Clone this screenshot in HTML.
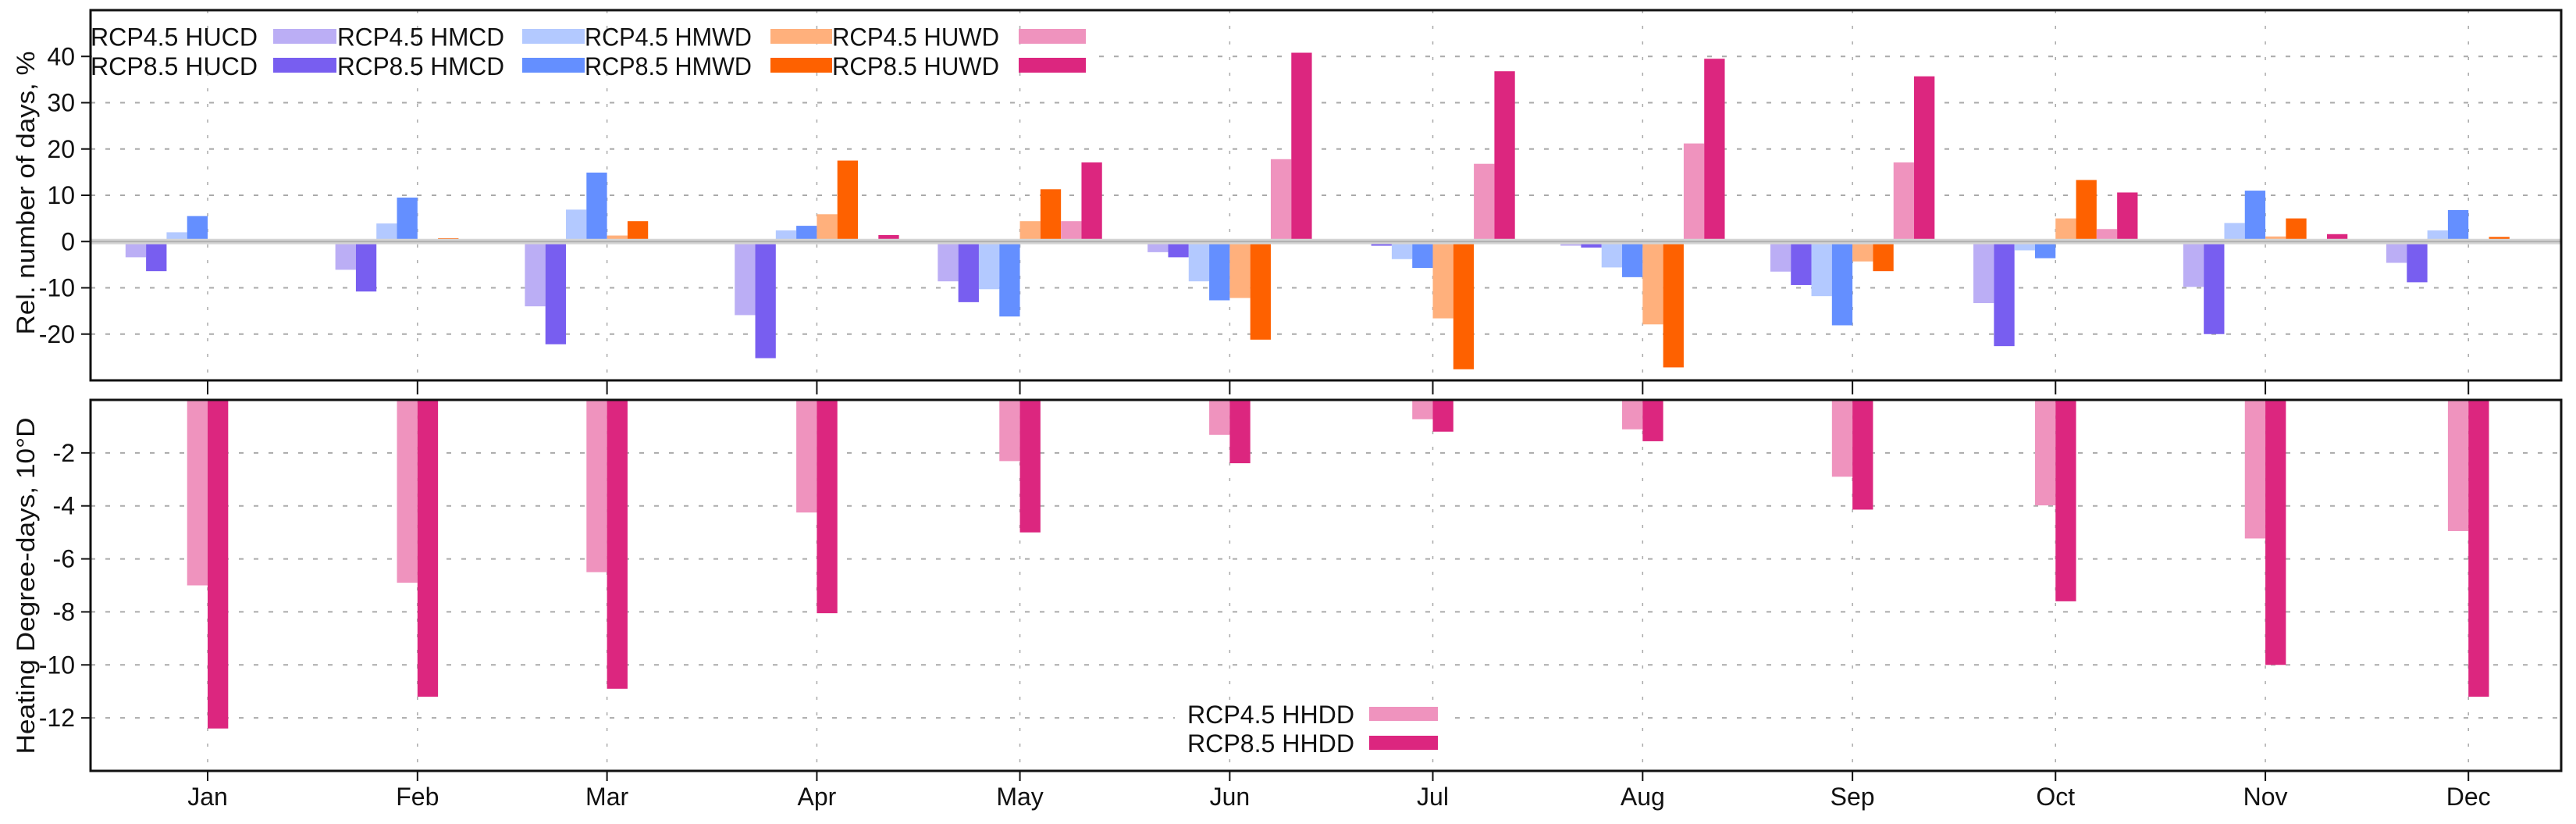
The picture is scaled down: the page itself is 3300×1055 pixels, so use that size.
<!DOCTYPE html>
<html><head><meta charset="utf-8"><style>
html,body{margin:0;padding:0;background:#fff;}
svg{display:block;font-family:"Liberation Sans",sans-serif;}
</style></head><body>
<svg id="chart" width="3300" height="1055" viewBox="0 0 3300 1055" xmlns="http://www.w3.org/2000/svg"></svg>
<script>
const months = ["Jan","Feb","Mar","Apr","May","Jun","Jul","Aug","Sep","Oct","Nov","Dec"];
const monthStartDays = [0,31,59,90,120,151,181,212,243,273,304,334];
const hucd45 = [-3.4,-6.1,-14.0,-15.9,-8.6,-2.3,-0.4,-0.9,-6.5,-13.3,-9.8,-4.6];
const hucd85 = [-6.4,-10.8,-22.2,-25.2,-13.1,-3.4,-0.9,-1.3,-9.4,-22.6,-20.0,-8.8];
const hmcd45 = [2.0,3.9,6.9,2.4,-10.3,-8.6,-3.8,-5.6,-11.8,-1.9,4.0,2.4];
const hmcd85 = [5.5,9.5,14.9,3.4,-16.2,-12.7,-5.7,-7.7,-18.1,-3.6,11.0,6.8];
const hmwd45 = [0,0,1.3,5.9,4.4,-12.2,-16.6,-17.9,-4.3,5.0,1.1,0.4];
const hmwd85 = [0.4,0.7,4.4,17.5,11.3,-21.2,-27.6,-27.2,-6.4,13.3,5.0,1.0];
const huwd45 = [0.1,0.1,0.4,0.3,4.4,17.8,16.8,21.2,17.1,2.7,0.4,0];
const huwd85 = [0,0,0,1.4,17.1,40.8,36.8,39.5,35.7,10.6,1.6,0.4];
const hhdd45 = [-7.0,-6.9,-6.5,-4.25,-2.31,-1.32,-0.73,-1.11,-2.9,-3.98,-5.23,-4.95];
const hhdd85 = [-12.4,-11.2,-10.9,-8.05,-5.0,-2.39,-1.2,-1.56,-4.14,-7.6,-10.0,-11.2];
const topTicks = [-20,-10,0,10,20,30,40];
const bottomTicks = [-12,-10,-8,-6,-4,-2];

const NS="http://www.w3.org/2000/svg";
const svg=document.getElementById('chart');
function mk(tag,attrs,parent){const e=document.createElementNS(NS,tag);for(const k in attrs)e.setAttribute(k,attrs[k]);(parent||svg).appendChild(e);return e;}

const X0=116,X1=3281;
const T={top:13,bot:487,min:-30,max:50};
const B={top:512,bot:987,min:-14,max:0};
function xMonth(i){return X0+(monthStartDays[i]+17.3)*(X1-X0)/365;}
function yT(v){return T.bot-(v-T.min)/(T.max-T.min)*(T.bot-T.top);}
function yB(v){return B.bot-(v-B.min)/(B.max-B.min)*(B.bot-B.top);}
const BW=26.3;

const colors=["#bbaef5","#785ef0","#b3c9ff","#648fff","#ffb07c","#fe6100","#ef93be","#dc267f"];
const series=[hucd45,hucd85,hmcd45,hmcd85,hmwd45,hmwd85,huwd45,huwd85];
const seriesNames=["rcp45-hucd","rcp85-hucd","rcp45-hmcd","rcp85-hmcd","rcp45-hmwd","rcp85-hmwd","rcp45-huwd","rcp85-huwd"];

function grids(P,yf,ticks,skipZero){
  const g=mk('g',{});
  
  
  ticks.forEach(t=>{ if(skipZero&&t===0)return;
    const l=mk('line',{x1:X0,x2:X1,y1:yf(t),y2:yf(t),stroke:'#aaa','stroke-width':2,'stroke-dasharray':'6 13'},g);
    
    
  });
  months.forEach((m,i)=>{
    const l=mk('line',{x1:xMonth(i),x2:xMonth(i),y1:P.top,y2:P.bot,stroke:'#aaa','stroke-width':1.5,'stroke-dasharray':'4 16'},g);
    
    
  });
}
grids(T,yT,topTicks,true);
grids(B,yB,bottomTicks,false);

series.forEach((s,si)=>{
  s.forEach((v,i)=>{
    const x=xMonth(i)+(si-4)*BW;
    const y0=yT(0),y1=yT(v);
    const r=mk('rect',{x:x,y:Math.min(y0,y1),width:BW,height:Math.max(Math.abs(y1-y0),0.5),fill:colors[si]});
    
    
  });
});
const zl=mk('line',{x1:X0,x2:X1,y1:yT(0),y2:yT(0),stroke:'#d4d4d4','stroke-width':7});


const zl2=mk('line',{x1:X0,x2:X1,y1:yT(0),y2:yT(0),stroke:'#b0b0b0','stroke-width':2});



[hhdd45,hhdd85].forEach((s,si)=>{
  s.forEach((v,i)=>{
    const x=xMonth(i)+(si-1)*BW;
    const y0=yB(0),y1=yB(v);
    const r=mk('rect',{x:x,y:Math.min(y0,y1),width:BW,height:Math.abs(y1-y0),fill:colors[6+si]});
    
    
  });
});

[T,B].forEach((P,k)=>{
  const f=mk('rect',{x:X0,y:P.top,width:X1-X0,height:P.bot-P.top,fill:'none',stroke:'#111','stroke-width':3});
  
  
});

function yAxis(yf,ticks,name){
  ticks.forEach(t=>{
    const tk=mk('line',{x1:X0-12,x2:X0,y1:yf(t),y2:yf(t),stroke:'#111','stroke-width':2});
    
    
    const tx=mk('text',{x:X0-20,y:yf(t)+11,'text-anchor':'end','font-size':32,fill:'#111'});
    tx.textContent=String(t);
    
    
  });
}
yAxis(yT,topTicks,'top-y');
yAxis(yB,bottomTicks,'bottom-y');

months.forEach((m,i)=>{
  const x=xMonth(i);
  const t1=mk('line',{x1:x,x2:x,y1:T.bot,y2:T.bot+18,stroke:'#111','stroke-width':2});
  
  
  const t2=mk('line',{x1:x,x2:x,y1:B.bot,y2:B.bot+13,stroke:'#111','stroke-width':2});
  
  
  const tx=mk('text',{x:x,y:1031,'text-anchor':'middle','font-size':32,fill:'#111'});
  tx.textContent=m;
  
  
});

const yt1=mk('text',{x:0,y:0,transform:'translate(44,247) rotate(-90)','text-anchor':'middle','font-size':32,fill:'#111',textLength:363,lengthAdjust:'spacingAndGlyphs'});
yt1.textContent='Rel. number of days, %';


const yt2=mk('text',{x:0,y:0,transform:'translate(44,750) rotate(-90)','text-anchor':'middle','font-size':32,fill:'#111',textLength:431,lengthAdjust:'spacingAndGlyphs'});
yt2.textContent='Heating Degree-days, 10°D';



const lg=mk('g',{});


mk('rect',{x:118,y:62,width:1285,height:20,fill:'#fff'},lg);
const legLabels=[["RCP4.5 HUCD","RCP4.5 HMCD","RCP4.5 HMWD","RCP4.5 HUWD"],["RCP8.5 HUCD","RCP8.5 HMCD","RCP8.5 HMWD","RCP8.5 HUWD"]];
const labX=[116,432,749,1066], swX=[350,669,987,1305], swW=[81,80,79,86];
[[37,58.5],[74,96]].forEach((row,r)=>{
  for(let c=0;c<4;c++){
    const e=mk('g',{},lg);
    
    
    const t=mk('text',{x:labX[c],y:row[1],'font-size':32,fill:'#111',textLength:214,lengthAdjust:'spacingAndGlyphs'},e);
    t.textContent=legLabels[r][c];
    mk('rect',{x:swX[c],y:row[0],width:swW[c],height:19,fill:colors[c*2+r]},e);
  }
});

const lb=mk('g',{});


mk('rect',{x:1505,y:896,width:355,height:72,fill:'#fff'},lb);
[["RCP4.5 HHDD",905,926,colors[6]],["RCP8.5 HHDD",942,963,colors[7]]].forEach(d=>{
  const e=mk('g',{},lb);
  
  
  const t=mk('text',{x:1521,y:d[2],'font-size':32,fill:'#111',textLength:214,lengthAdjust:'spacingAndGlyphs'},e);
  t.textContent=d[0];
  mk('rect',{x:1754,y:d[1],width:88,height:18,fill:d[3]},e);
});
</script>
</body></html>
